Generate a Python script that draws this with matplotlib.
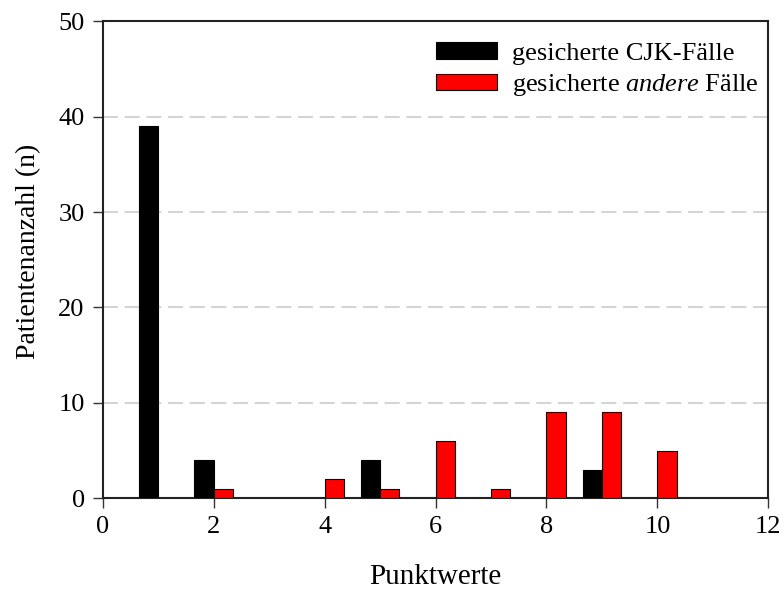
import matplotlib
matplotlib.use("Agg")
import matplotlib.pyplot as plt

plt.rcParams['font.family'] = ['Liberation Serif', 'DejaVu Serif']
plt.rcParams['mathtext.fontset'] = 'custom'
plt.rcParams['mathtext.rm'] = 'Liberation Serif'
plt.rcParams['mathtext.it'] = 'Liberation Serif:italic'

# Scores and patient counts
cjk_scores = [1, 2, 5, 9]
cjk_counts = [39, 4, 4, 3]
other_scores = [2, 4, 5, 6, 7, 8, 9, 10]
other_counts = [1, 2, 1, 6, 1, 9, 9, 5]

x_ticks = [0, 2, 4, 6, 8, 10, 12]
y_ticks = [0, 10, 20, 30, 40, 50]

fig = plt.figure(figsize=(7.84, 5.91), dpi=100)
ax = fig.add_axes([0.131, 0.157, 0.849, 0.807])

bar_w = 0.35
ax.bar(cjk_scores, cjk_counts, width=-bar_w, align='edge', color='black',
       edgecolor='black', linewidth=0.8, zorder=3, label='gesicherte CJK-Fälle')
ax.bar(other_scores, other_counts, width=bar_w, align='edge', color='#ff0000',
       edgecolor='black', linewidth=0.8, zorder=3,
       label='gesicherte$\\ \\mathit{andere}\\ $Fälle')

ax.set_xlim(0, 12)
ax.set_ylim(0, 50)
ax.set_xticks(x_ticks)
ax.set_yticks(y_ticks)
ax.tick_params(direction='out', length=7, width=1, labelsize=19, pad=6,
               colors='#333333', labelcolor='black')
for y in y_ticks[1:-1]:
    ax.axhline(y, color='#cccccc', linewidth=1.2, dashes=(9, 4), zorder=1)

for s in ax.spines.values():
    s.set_linewidth(1.5)
    s.set_color('#222222')

ax.set_xlabel('Punktwerte', fontsize=21)
ax.set_ylabel('Patientenanzahl (n)', fontsize=20)
ax.xaxis.set_label_coords(0.5, -0.138)
ax.yaxis.set_label_coords(-0.093, 0.518)

leg = ax.legend(loc='upper right', frameon=False, fontsize=19,
                handlelength=2.3, handleheight=0.6, handletextpad=0.6,
                labelspacing=0.28, borderaxespad=0.0, bbox_to_anchor=(1.002, 0.978))

fig.savefig('out.png', dpi=100)
